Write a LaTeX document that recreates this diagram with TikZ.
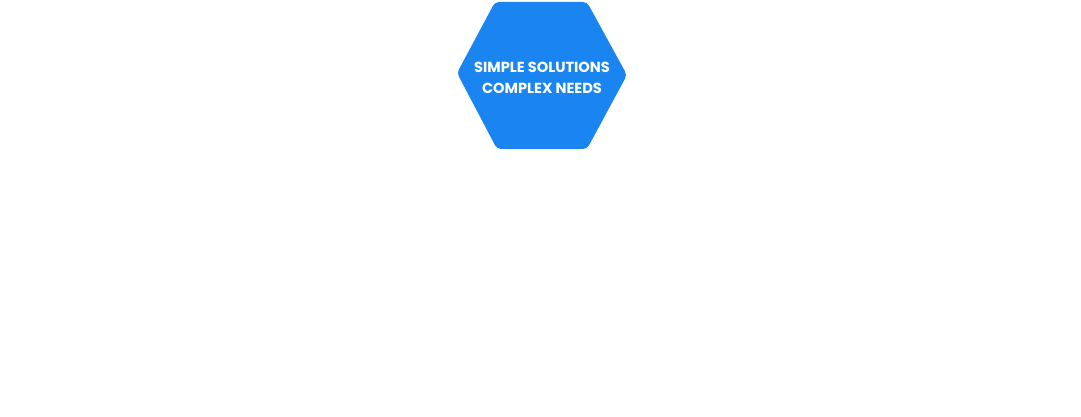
\documentclass[tikz,border=0pt]{standalone}
\usepackage{fontspec}
\setmainfont{Poppins}
\definecolor{hexblue}{RGB}{26,133,240}
\tikzset{
  hexshape/.style={fill=hexblue, draw=none, rounded corners=4pt},
  hextext/.style={text=white, font=\bfseries\fontsize{14.6}{21}\selectfont, align=center, inner sep=0pt}
}
\begin{document}
\begin{tikzpicture}[x=1pt,y=1pt]
\useasboundingbox[fill=white] (0,0) rectangle (1081,417);
\fill[hexshape] (495,415) -- (587,415) -- (627,342) -- (587,268) -- (497,268) -- (457,344) -- cycle;
\node[hextext] (label) at (542,339) {SIMPLE SOLUTIONS\\COMPLEX NEEDS};
\end{tikzpicture}
\end{document}
